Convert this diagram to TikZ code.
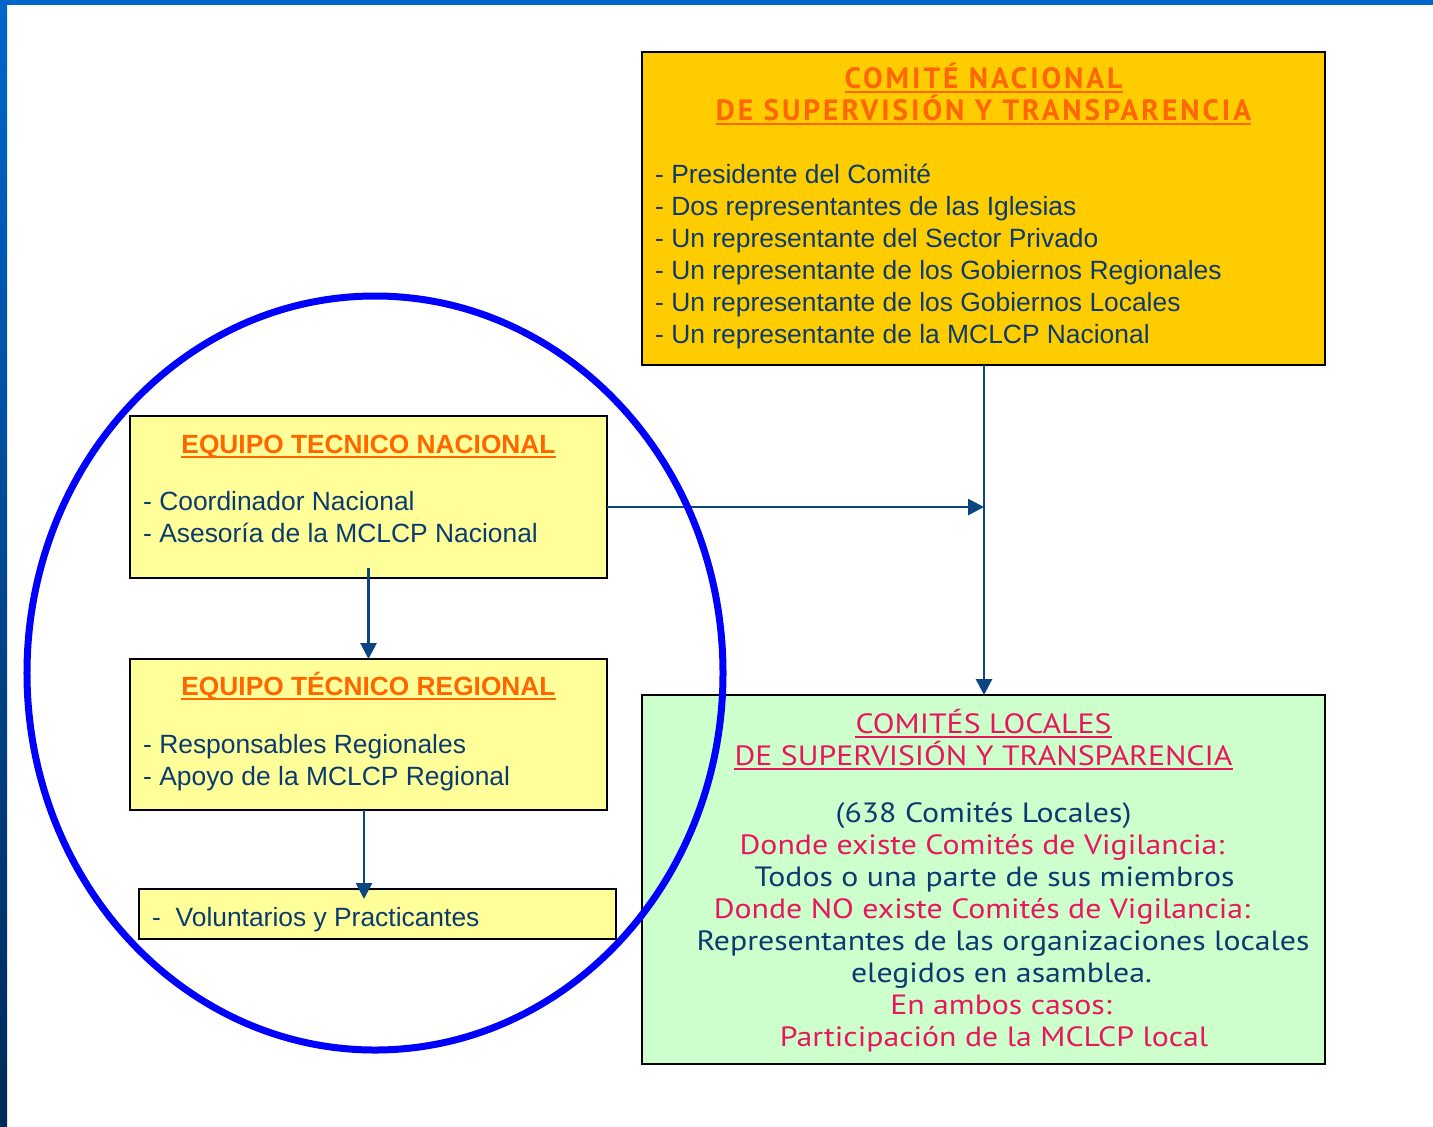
\documentclass[tikz,border=0pt]{standalone}
\usepackage{fontspec}
\setmainfont{Liberation Sans}
\newfontfamily\tahoma[FakeStretch=1.14]{PT Sans}
\newfontfamily\tahomaesp[LetterSpace=10]{PT Sans}
\usetikzlibrary{arrows.meta}

\definecolor{azulT}{HTML}{0B3A70}
\definecolor{azulF}{HTML}{0B4682}
\definecolor{naranjaT}{HTML}{FF6600}
\definecolor{rosaT}{HTML}{E8175D}
\definecolor{fondoNac}{HTML}{FFCC00}
\definecolor{fondoEq}{HTML}{FFFF99}
\definecolor{fondoLoc}{HTML}{CCFFCC}
\definecolor{marcoA}{HTML}{0066CC}
\definecolor{marcoB}{HTML}{002A58}

\tikzset{
  caja/.style={line width=2bp,draw=black},
  item/.style={anchor=base west,inner sep=0pt,text=azulT,font=\fontsize{26.5}{32}\selectfont},
  subNar/.style={append after command={\pgfextra{\draw[naranjaT,line width=2bp]
      ([yshift=-3.5bp]\tikzlastnode.base west) -- ([yshift=-3.5bp]\tikzlastnode.base east);}}},
  subRosa/.style={append after command={\pgfextra{\draw[rosaT,line width=2bp]
      ([yshift=-4bp]\tikzlastnode.base west) -- ([yshift=-4bp]\tikzlastnode.base east);}}},
  tituloEq/.style={anchor=base,inner sep=0pt,text=naranjaT,font=\fontsize{26.4}{32}\selectfont\bfseries,subNar},
  tituloNac/.style={anchor=base,inner sep=0pt,text=naranjaT,font=\tahomaesp\fontsize{29.5}{32}\selectfont\bfseries,subNar},
  linea/.style={anchor=base,inner sep=0pt,font=\tahoma\fontsize{28}{32}\selectfont},
  flecha/.style={-{Triangle[length=16bp,width=16bp]},line width=2.8bp,color=azulF}
}

\begin{document}
\begin{tikzpicture}[x=1bp,y=-1bp]
\useasboundingbox (0,0) rectangle (1433,1126);
\fill[white] (0,0) rectangle (1433,1126);

% marco de la diapositiva
\shade[top color=marcoA,bottom color=marcoB] (0,0) rectangle (7,1126);
\fill[color=marcoA] (0,0) rectangle (1433,5);

% cajas
\draw[caja,fill=fondoNac] (642,52) rectangle (1325,365);
\draw[caja,fill=fondoEq] (130,416) rectangle (607,578);
\draw[caja,fill=fondoEq] (130,659) rectangle (607,810);
\draw[caja,fill=fondoEq] (139,889) rectangle (616,939);
\draw[caja,fill=fondoLoc] (642,695) rectangle (1325,1064);

% comite nacional
\node[tituloNac] (v1) at (983.5,88) {COMITÉ NACIONAL};
\node[tituloNac] (v2) at (983.5,120) {DE SUPERVISIÓN Y TRANSPARENCIA};
\node[item] (v3) at (655,183) {- Presidente del Comité};
\node[item] (v4) at (655,215) {- Dos representantes de las Iglesias};
\node[item] (v5) at (655,247) {- Un representante del Sector Privado};
\node[item] (v6) at (655,279) {- Un representante de los Gobiernos Regionales};
\node[item] (v7) at (655,311) {- Un representante de los Gobiernos Locales};
\node[item] (v8) at (655,343) {- Un representante de la MCLCP Nacional};

% equipo tecnico nacional
\node[tituloEq] (v9) at (368.5,453) {EQUIPO TECNICO NACIONAL};
\node[item] (v10) at (143,510) {- Coordinador Nacional};
\node[item] (v11) at (143,542) {- Asesoría de la MCLCP Nacional};

% equipo tecnico regional
\node[tituloEq] (v12) at (368.5,695) {EQUIPO TÉCNICO REGIONAL};
\node[item] (v13) at (143,753) {- Responsables Regionales};
\node[item] (v14) at (143,785) {- Apoyo de la MCLCP Regional};

\node[item] (v15) at (152,926) {-\ \ Voluntarios y Practicantes};

% comites locales
\node[linea,text=rosaT,subRosa] (v16) at (983.5,733) {COMITÉS LOCALES};
\node[linea,text=rosaT,subRosa] (v17) at (983.5,765) {DE SUPERVISIÓN Y TRANSPARENCIA};
\node[linea,text=azulT] (v18) at (983.5,822) {(638 Comités Locales)};
\node[linea,text=rosaT] (v19) at (982,854) {Donde existe Comités de Vigilancia:};
\node[linea,text=azulT] (v20) at (998,886) {Todos o una parte de sus miembros\textcolor{fondoLoc!70!white}{.}};
\node[linea,text=rosaT] (v21) at (982,918) {Donde NO existe Comités de Vigilancia:};
\node[linea,text=azulT] (v22) at (1003,950) {Representantes de las organizaciones locales};
\node[linea,text=azulT] (v23) at (1001.5,982) {elegidos en asamblea.};
\node[linea,text=rosaT] (v24) at (1001,1014) {En ambos casos:};
\node[linea,text=rosaT] (v25) at (997.5,1046) {Participación de la MCLCP local\textcolor{fondoLoc!70!white}{.}};

% conectores
\coordinate (v26) at (368.5,568);
\coordinate (v27) at (368.5,659);
\coordinate (v28) at (364,810);
\coordinate (v29) at (364,899);
\coordinate (v30) at (984,365);
\coordinate (v31) at (984,695);
\coordinate (v32) at (607,507);
\coordinate (v33) at (984,507);
\draw[flecha] (v26) -- (v27);
\draw[flecha] (v28) -- (v29);
\draw[flecha] (v30) -- (v31);
\draw[flecha] (v32) -- (v33);

% circulo azul
\draw[color=blue,line width=7bp] (375,673) ellipse [x radius=348bp,y radius=377bp];
\end{tikzpicture}
\end{document}
